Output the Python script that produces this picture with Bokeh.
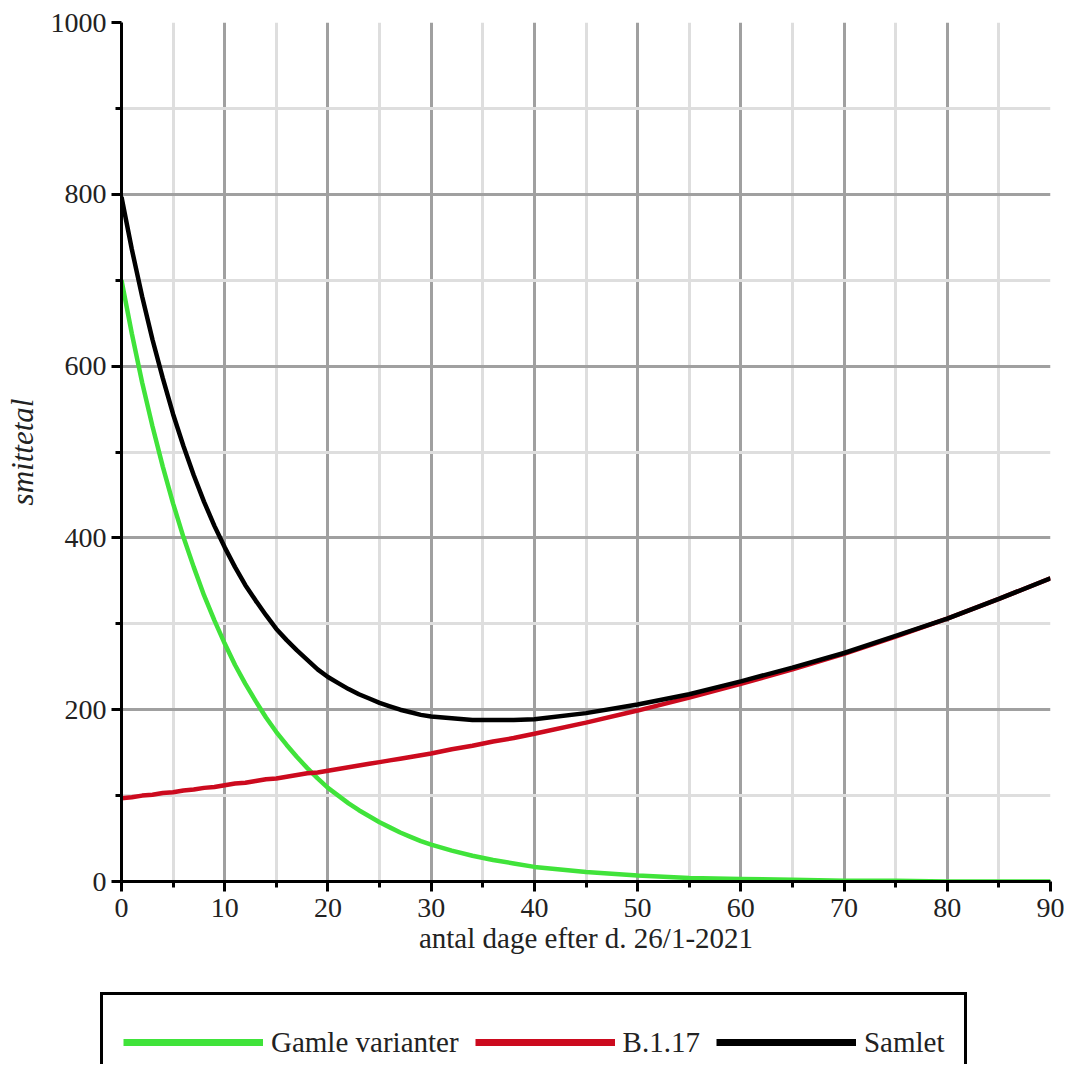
from bokeh.plotting import figure
from bokeh.layouts import column
from bokeh.models import FixedTicker, Range1d, Legend, LegendItem, ColumnDataSource
from bokeh.embed import file_html
from bokeh.resources import INLINE

# Data
days = [0, 1, 2, 3, 4, 5, 6, 7, 8, 9, 10, 11, 12, 13, 14, 15, 16, 17, 18, 19, 20,
        21, 22, 23, 24, 25, 26, 27, 28, 29, 30, 32, 34, 36, 38, 40,
        45, 50, 55, 60, 65, 70, 75, 80, 85, 90]
gamle = [700, 638, 581, 530, 483, 440, 401, 366, 333, 304, 277, 252, 230, 210, 191, 174, 159, 145, 132, 120, 109,
         100, 91, 83, 76, 69, 63, 57, 52, 47, 43, 36, 30, 25, 21, 17,
         11, 7, 4, 3, 2, 1, 1, 0, 0, 0]
b117 = [97, 98, 100, 101, 103, 104, 106, 107, 109, 110, 112, 114, 115, 117, 119, 120, 122, 124, 126, 127, 129,
        131, 133, 135, 137, 139, 141, 143, 145, 147, 149, 154, 158, 163, 167, 172,
        185, 199, 214, 230, 247, 265, 285, 306, 329, 353]
samlet = [797, 736, 681, 631, 586, 544, 507, 473, 442, 414, 389, 366, 345, 327, 310, 294, 281, 269, 258, 247, 238,
          231, 224, 218, 213, 208, 204, 200, 197, 194, 192, 190, 188, 188, 188, 189,
          196, 206, 218, 233, 249, 266, 286, 306, 329, 353]

series_names = ["Gamle varianter", "B.1.17", "Samlet"]
series_colors = ["#40e33a", "#cc0a1e", "#000000"]

x_ticks = [0, 10, 20, 30, 40, 50, 60, 70, 80, 90]
x_minor = [5, 15, 25, 35, 45, 55, 65, 75, 85]
y_ticks = [0, 200, 400, 600, 800, 1000]
y_minor = [100, 300, 500, 700, 900]

x_label = "antal dage efter d. 26/1-2021"
y_label = "smittetal"

FONT = "Liberation Serif"
TXT = "#222222"

p = figure(width=1064, height=970,
           x_range=Range1d(0, 90), y_range=Range1d(0, 1000),
           output_backend="svg", toolbar_location=None,
           min_border_left=121, min_border_right=14,
           min_border_top=22, min_border_bottom=89)
p.outline_line_color = None
p.background_fill_color = "white"
p.border_fill_color = "white"

xt = FixedTicker(ticks=x_ticks, minor_ticks=x_minor)
yt = FixedTicker(ticks=y_ticks, minor_ticks=y_minor)
p.xaxis.ticker = xt
p.yaxis.ticker = yt
p.xgrid.ticker = xt
p.ygrid.ticker = yt

for g in (p.xgrid, p.ygrid):
    g.grid_line_color = "#a0a0a0"
    g.grid_line_width = 3
    g.minor_grid_line_color = "#dedede"
    g.minor_grid_line_width = 3

for ax in (p.xaxis, p.yaxis):
    ax.axis_line_color = "black"
    ax.axis_line_width = 3
    ax.major_tick_line_color = "black"
    ax.major_tick_line_width = 3
    ax.minor_tick_line_color = "black"
    ax.minor_tick_line_width = 3
    ax.major_tick_in = 0
    ax.major_tick_out = 10
    ax.minor_tick_in = 0
    ax.minor_tick_out = 6
    ax.major_label_text_font = FONT
    ax.major_label_text_font_size = "28px"
    ax.major_label_text_color = TXT
    ax.axis_label_text_font = FONT
    ax.axis_label_text_color = TXT

p.xaxis.major_label_standoff = 7
p.xaxis.axis_label = x_label
p.xaxis.axis_label_standoff = 2
p.xaxis.axis_label_text_font_size = "29px"
p.xaxis.axis_label_text_font_style = "normal"

p.yaxis.major_label_standoff = 5
p.yaxis.axis_label = y_label
p.yaxis.axis_label_standoff = 8
p.yaxis.axis_label_text_font_size = "31px"
p.yaxis.axis_label_text_font_style = "italic"

src = ColumnDataSource(dict(x=days, g=gamle, r=b117, s=samlet))
cols = ["g", "r", "s"]
for c, col in zip(cols, series_colors):
    p.line("x", c, source=src, line_color=col, line_width=4.5)

# Legend strip below the chart (box cut at the bottom edge as in the original)
lg = figure(width=1064, height=94, x_range=Range1d(0, 90), y_range=Range1d(5000, 6000),
            output_backend="svg", toolbar_location=None,
            x_axis_type=None, y_axis_type=None,
            min_border=0, min_border_left=0, min_border_right=0,
            min_border_top=0, min_border_bottom=0)
lg.outline_line_color = None
lg.xgrid.visible = False
lg.ygrid.visible = False
lg.background_fill_color = "white"
lg.border_fill_color = "white"
for fig in (p, lg):
    if "frame_align" in fig.properties():
        fig.frame_align = False

items = []
for c, name, col in zip(cols, series_names, series_colors):
    # same data, outside this strip's view: only the legend swatch shows
    sw = lg.line("x", c, source=src, line_color=col, line_width=7)
    items.append(LegendItem(label=name, renderers=[sw]))

legend = Legend(items=items, orientation="horizontal",
                location=(100, -28),
                border_line_color="black", border_line_width=3, border_line_alpha=1.0,
                background_fill_color="white", background_fill_alpha=1.0,
                label_text_font=FONT, label_text_font_size="29px",
                label_text_color=TXT,
                glyph_width=140, glyph_height=54, label_height=54,
                label_standoff=8, spacing=16, padding=20, margin=0)
lg.add_layout(legend, "center")

layout = column(p, lg, spacing=0)
open("out.html", "w").write(file_html(layout, INLINE))
